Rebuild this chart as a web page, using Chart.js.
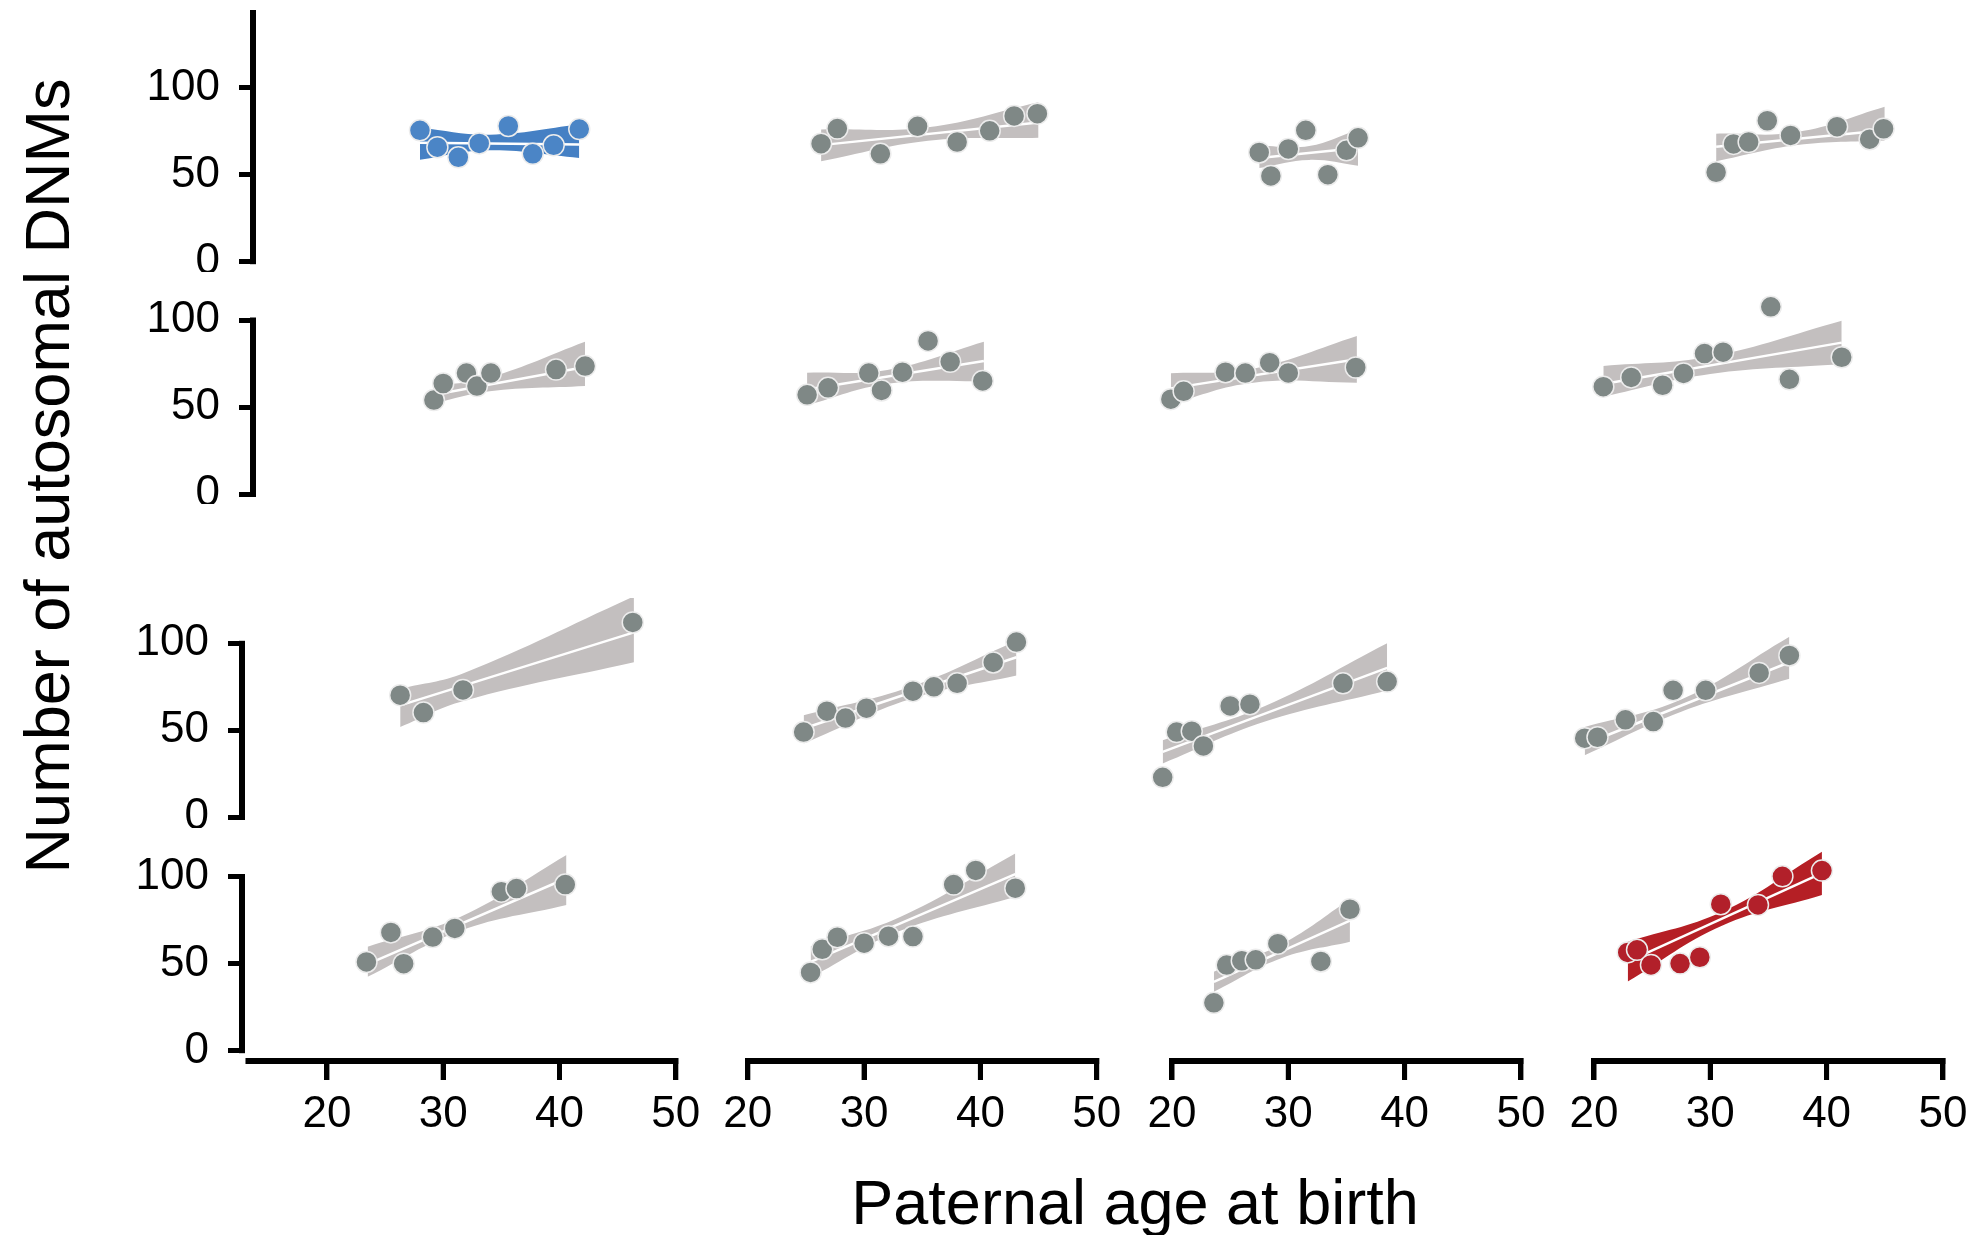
<!DOCTYPE html>
<html>
<head>
<meta charset="utf-8">
<script src="https://cdn.jsdelivr.net/npm/chart.js@4.4.1/dist/chart.umd.min.js"></script>
<style>
  html, body { margin: 0; padding: 0; background: #fff; }
  #fig { position: relative; width: 1970px; height: 1235px; overflow: hidden; font-family: "Liberation Sans", Arial, sans-serif; color: #000; }
  #fig canvas { position: absolute; }
  .ylab { position: absolute; left: 47px; top: 476px; font-size: 63px; line-height: 1; white-space: nowrap; transform: translate(-50%, -50%) rotate(-90deg); }
  .xlab { position: absolute; left: 1135px; top: 1171px; font-size: 63px; line-height: 1; white-space: nowrap; transform: translateX(-50%); }
</style>
</head>
<body>
<div id="fig">
  <div class="ylab">Number of autosomal DNMs</div>
  <div class="xlab">Paternal age at birth</div>
</div>
<script>
// one entry per panel, row by row (4 x 4)
const ageX = [
  [28.0, 29.5, 31.3, 33.1, 35.6, 37.7, 39.5, 41.7],
  [26.3, 27.7, 31.4, 34.6, 38.0, 40.8, 42.9, 44.9],
  [27.5, 28.5, 30.0, 31.5, 33.4, 35.0, 36.0],
  [30.5, 32.0, 33.3, 34.9, 36.9, 40.9, 43.7, 44.9],
  [29.2, 30.0, 32.0, 32.9, 34.1, 39.7, 42.2],
  [25.1, 26.9, 30.4, 31.5, 33.3, 35.5, 37.4, 40.2],
  [19.9, 21.0, 24.6, 26.3, 28.4, 30.0, 35.8],
  [20.8, 23.2, 25.9, 27.7, 29.5, 31.1, 35.2, 36.8, 41.3],
  [26.3, 28.3, 31.7, 46.3],
  [24.8, 26.8, 28.4, 30.2, 34.2, 36.0, 38.0, 41.1, 43.1],
  [19.2, 20.4, 21.7, 22.7, 25.0, 26.7, 34.7, 38.5],
  [19.2, 20.3, 22.7, 25.1, 26.8, 29.6, 34.2, 36.8],
  [23.4, 25.5, 26.6, 29.1, 31.0, 35.0, 36.3, 40.5],
  [25.4, 26.4, 27.7, 30.0, 32.1, 34.2, 37.7, 39.6, 43.0],
  [23.6, 24.7, 26.0, 27.2, 29.1, 32.8, 35.3],
  [22.9, 23.7, 24.9, 27.4, 29.1, 30.9, 34.1, 36.2, 39.6]
];
const dnmY = [
  [75.5, 65.8, 60.0, 68.0, 78.0, 62.0, 66.9, 76.2],
  [67.8, 76.5, 62.0, 77.8, 68.8, 75.2, 83.8, 85.1],
  [62.8, 49.3, 64.8, 75.5, 50.0, 64.0, 71.2],
  [51.4, 67.7, 68.8, 81.0, 72.6, 77.6, 70.4, 76.4],
  [54.0, 63.5, 69.5, 62.0, 69.5, 71.5, 73.5],
  [57.0, 61.0, 69.5, 59.5, 70.0, 88.0, 76.0, 65.0],
  [54.5, 59.0, 70.0, 69.5, 75.5, 69.6, 72.7],
  [61.7, 67.0, 62.5, 69.3, 80.7, 81.5, 107.6, 65.9, 78.6],
  [70.2, 60.2, 73.2, 112.0],
  [49.0, 61.0, 57.0, 62.7, 72.5, 75.0, 77.0, 89.0, 100.7],
  [23.0, 49.0, 49.5, 41.0, 64.0, 65.0, 77.0, 78.0],
  [45.5, 46.0, 56.0, 55.0, 73.0, 73.0, 83.0, 93.0],
  [51.0, 68.0, 50.0, 65.3, 70.3, 91.4, 93.2, 95.5],
  [45.0, 58.3, 65.2, 61.8, 65.8, 65.6, 95.5, 103.6, 93.4],
  [27.5, 49.2, 51.7, 52.2, 61.5, 51.3, 81.3],
  [56.5, 58.0, 49.3, 50.1, 53.7, 84.2, 83.8, 100.2, 103.5]
];
// confidence band read at start, middle and end of each fit
const ciAge = [
  [28.0, 34.0, 41.7], [26.3, 35.5, 45.0], [27.5, 31.8, 36.0], [30.5, 37.5, 45.0],
  [29.2, 34.0, 42.2], [25.1, 32.0, 40.3], [19.9, 27.0, 35.9], [20.8, 30.0, 41.3],
  [26.3, 31.8, 46.4], [24.8, 34.0, 43.1], [19.2, 28.0, 38.5], [19.2, 27.5, 36.8],
  [23.5, 31.5, 40.6], [25.4, 33.0, 43.0], [23.6, 29.5, 35.3], [22.9, 31.0, 39.6]
];
const ciLow = [
  [58.6, 64.0, 59.6], [57.7, 69.5, 71.2], [53.8, 58.5, 55.2], [57.7, 67.0, 69.6],
  [52.0, 59.0, 62.0], [51.0, 63.3, 65.0], [52.0, 64.0, 64.0], [56.0, 69.0, 74.7],
  [51.9, 67.0, 89.1], [42.4, 68.0, 81.5], [30.9, 55.0, 72.9], [35.7, 60.7, 79.6],
  [42.5, 69.0, 83.7], [42.0, 68.6, 88.5], [33.9, 53.4, 62.6], [39.7, 71.8, 89.5]
];
const ciHigh = [
  [77.0, 73.0, 78.8], [76.0, 77.3, 91.7], [66.7, 66.5, 76.0], [73.6, 74.5, 89.0],
  [62.0, 67.0, 87.5], [69.7, 71.3, 87.5], [69.4, 72.0, 90.8], [73.6, 79.0, 99.6],
  [73.9, 83.0, 127.0], [58.6, 75.0, 101.5], [44.3, 64.0, 100.0], [51.9, 67.7, 103.8],
  [59.8, 77.0, 112.5], [60.0, 76.6, 113.4], [45.4, 61.4, 87.0], [62.6, 79.8, 114.4]
];
// fitted line at first and last band age
const fitY = [
  [68.3, 67.3], [67.0, 80.0], [59.6, 65.4], [66.0, 75.5],
  [57.0, 73.0], [60.0, 76.4], [60.7, 77.4], [63.2, 87.0],
  [64.3, 106.3], [51.0, 92.0], [37.6, 85.9], [42.0, 89.1],
  [49.8, 99.1], [51.0, 101.5], [39.6, 74.8], [51.2, 102.0]
];
const yTicks = [0, 50, 100];
const xTicks = [20, 30, 40, 50];

// styles
const GREY = '#7f8886', GREY_BAND = '#c3bfbf';
const pointColor = i => (i === 0 ? '#4b85c6' : i === 15 ? '#b2202a' : GREY);
const bandColor = i => (i === 0 ? '#4580c4' : i === 15 ? '#b51f25' : GREY_BAND);

// layout (pixels): where x = 20 sits in each column, where y = 0 sits in each row
const colX20 = [326.9, 747.8, 1172, 1594];
const rowY0 = [261.7, 494, 817.3, 1050.7];
const PX_X = 11.63, PX_Y = 1.74;
const AXW = 200, AXH = 100;
const spineTop = [143.7, 100, 100, 100];
const SPINE = 6;

Chart.defaults.font.family = "'Liberation Sans', Arial, sans-serif";

// despined axes: lines only over the labelled range, x ticks below
const spines = {
  id: 'spines',
  afterDraw(chart, args, opts) {
    const { ctx, chartArea } = chart;
    const sx = chart.scales.x, sy = chart.scales.y;
    ctx.save();
    ctx.fillStyle = '#000';
    if (opts.yTop) {
      const y0 = sy.getPixelForValue(0), y1 = sy.getPixelForValue(opts.yTop);
      ctx.fillRect(chartArea.left - SPINE, y1 - 2.5, SPINE, y0 - y1 + 5);
    }
    if (opts.xFrom) {
      const x0 = sx.getPixelForValue(opts.xFrom), x1 = sx.getPixelForValue(50);
      const yb = chartArea.bottom;
      ctx.fillRect(x0, yb, x1 - x0 + 2.5, SPINE);
      for (const v of xTicks) {
        const px = sx.getPixelForValue(v);
        ctx.fillRect(px - 2.5, yb, 5, 22);
      }
    }
    ctx.restore();
  }
};

const fig = document.getElementById('fig');
const tickFont = { size: 44 };

ageX.forEach((xs, i) => {
  const r = Math.floor(i / 4), c = i % 4;
  const showY = c === 0, showX = r === 3;
  const left = c === 0 ? (r < 2 ? 256 : 245) : Math.round(colX20[c] - 4 * PX_X);
  const right = Math.round(colX20[c] + 33.5 * PX_X);
  const top = [10, 285, 598, 842][r];
  const bottom = r === 3 ? 1058 : Math.round(rowY0[r] + 6 * PX_Y);

  const cvLeft = left - (showY ? AXW : 0);
  const canvas = document.createElement('canvas');
  canvas.width = right - cvLeft;
  canvas.height = bottom - top + (showX ? AXH : 0);
  canvas.style.left = cvLeft + 'px';
  canvas.style.top = top + 'px';
  fig.appendChild(canvas);

  const pts = xs.map((x, k) => ({ x: x, y: dnmY[i][k] }));
  const lo = ciAge[i].map((x, k) => ({ x: x, y: ciLow[i][k] }));
  const hi = ciAge[i].map((x, k) => ({ x: x, y: ciHigh[i][k] }));
  const fit = [
    { x: ciAge[i][0], y: fitY[i][0] },
    { x: ciAge[i][2], y: fitY[i][1] }
  ];

  new Chart(canvas, {
    type: 'line',
    data: {
      datasets: [
        {
          data: pts, showLine: false, order: 0,
          pointRadius: 10.5, pointHoverRadius: 10.5,
          pointBackgroundColor: pointColor(i),
          pointBorderColor: '#ececec', pointBorderWidth: 1.5
        },
        {
          data: fit, order: 1, borderColor: '#ffffff', borderWidth: 2.5,
          pointRadius: 0, tension: 0, fill: false
        },
        {
          data: lo, order: 3, borderColor: 'rgba(0,0,0,0)', borderWidth: 1,
          pointRadius: 0, tension: 0.4, fill: false
        },
        {
          data: hi, order: 2, borderColor: 'rgba(0,0,0,0)', borderWidth: 1,
          pointRadius: 0, tension: 0.4, fill: '-1', backgroundColor: bandColor(i)
        }
      ]
    },
    options: {
      responsive: false,
      maintainAspectRatio: false,
      devicePixelRatio: 1,
      animation: false,
      events: [],
      layout: { padding: 0, autoPadding: false },
      plugins: {
        legend: { display: false },
        tooltip: { enabled: false },
        spines: { yTop: showY ? spineTop[r] : 0, xFrom: showX ? (c === 0 ? 13.0 : 20) : 0 }
      },
      scales: {
        x: {
          type: 'linear',
          min: 20 + (left - colX20[c]) / PX_X,
          max: 20 + (right - colX20[c]) / PX_X,
          display: showX,
          afterBuildTicks: s => { s.ticks = xTicks.map(v => ({ value: v })); },
          afterFit: showX ? s => { s.height = AXH; s.paddingLeft = 0; s.paddingRight = 0; } : undefined,
          grid: { drawOnChartArea: false, drawTicks: true, tickLength: 22, tickWidth: 5, tickColor: '#000' },
          border: { display: false },
          ticks: { color: '#000', padding: 8, font: tickFont, maxRotation: 0, autoSkip: false }
        },
        y: {
          type: 'linear',
          min: (rowY0[r] - bottom) / PX_Y,
          max: (rowY0[r] - top) / PX_Y,
          display: showY,
          afterBuildTicks: s => { s.ticks = yTicks.map(v => ({ value: v })); },
          afterFit: showY ? s => { s.width = AXW; s.paddingTop = 0; s.paddingBottom = 0; } : undefined,
          grid: { drawOnChartArea: false, drawTicks: true, tickLength: 17, tickWidth: 5, tickColor: '#000' },
          border: { display: false },
          ticks: { color: '#000', padding: 19, font: tickFont, autoSkip: false }
        }
      }
    },
    plugins: [spines]
  });
});
</script>
</body>
</html>
